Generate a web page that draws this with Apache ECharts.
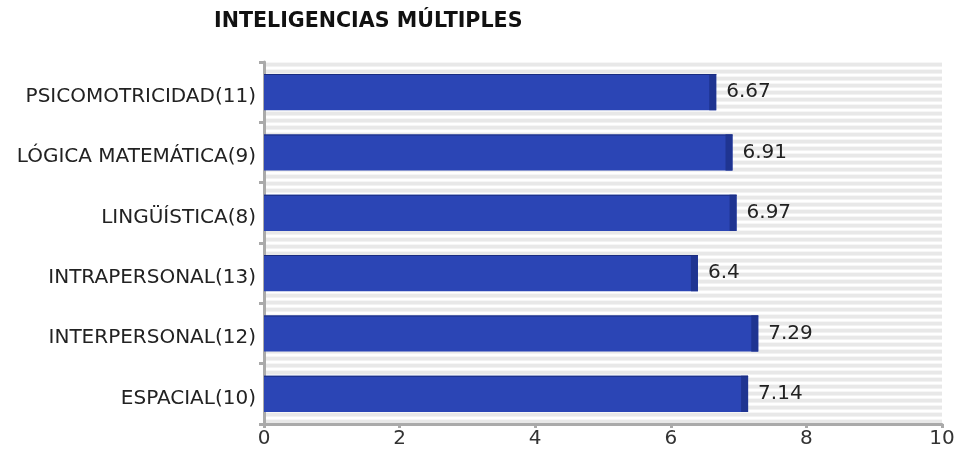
<!DOCTYPE html>
<html><head><meta charset="utf-8">
<script src="https://cdn.jsdelivr.net/npm/echarts@6/dist/echarts.min.js"></script>
<style>html,body{margin:0;padding:0;background:#fff}#c{width:958px;height:450px}</style>
</head><body><div id="c"></div>
<script>
const categories = ['PSICOMOTRICIDAD(11)','LÓGICA MATEMÁTICA(9)','LINGÜÍSTICA(8)','INTRAPERSONAL(13)','INTERPERSONAL(12)','ESPACIAL(10)'];
const values = [6.67, 6.91, 6.97, 6.4, 7.29, 7.14];
const xTicks = [0, 2, 4, 6, 8, 10];

// stripe pattern
const pc = document.createElement('canvas');
pc.width = 8; pc.height = 7;
const pctx = pc.getContext('2d');
pctx.fillStyle = '#ffffff'; pctx.fillRect(0,0,8,7);
pctx.fillStyle = '#e8e8e8'; pctx.fillRect(0,0,8,3);
pctx.fillStyle = '#f2f2f2'; pctx.fillRect(0,3,8,1);
pctx.fillStyle = '#f6f6f6'; pctx.fillRect(0,6,8,1);

const chart = echarts.init(document.getElementById('c'));
chart.setOption({
  animation: false,
  title: {text: 'INTELIGENCIAS MÚLTIPLES', left: 209, top: 6,
    textStyle: {fontFamily: 'DejaVu Sans', fontWeight: 'bold', fontSize: 20.6, color: '#111'}},
  grid: {left: 264, right: 16, top: 62, bottom: 26, show: true, borderWidth: 0,
    backgroundColor: {image: pc, repeat: 'repeat'}},
  xAxis: {type: 'value', min: 0, max: 10, interval: 2,
    axisLine: {show: true, lineStyle: {color: '#aaaaaa', width: 3}},
    axisTick: {show: true, length: 4, lineStyle: {color: '#aaaaaa', width: 3}},
    splitLine: {show: false},
    axisLabel: {fontFamily: 'DejaVu Sans', fontSize: 20, color: '#333', margin: 5,
      formatter: v => xTicks.includes(v) ? String(v) : ''}},
  yAxis: {type: 'category', data: categories, inverse: true,
    axisLine: {show: true, lineStyle: {color: '#aaaaaa', width: 3}},
    axisTick: {show: true, length: 5, lineStyle: {color: '#aaaaaa', width: 3}},
    axisLabel: {margin: 8, formatter: v => '{a|' + v + '}',
      rich: {a: {fontFamily: 'DejaVu Sans', fontSize: 20, color: '#222', padding: [9, 0, 0, 0]}}}},
  series: [{
    type: 'custom',
    data: values.map((v, i) => [v, i]),
    encode: {x: 0, y: 1},
    renderItem: function (params, api) {
      const v = api.value(0), c = api.value(1);
      const s = api.coord([0, c]);
      const e = api.coord([v, c]);
      const h = api.size([0, 1])[1] * 0.6;
      const y0 = s[1] - h / 2;
      const w = e[0] - s[0];
      return {type: 'group', children: [
        {type: 'rect', shape: {x: s[0], y: y0, width: w, height: h},
          style: {fill: '#2b45b5'}},
        {type: 'rect', shape: {x: e[0] - 7, y: y0, width: 7, height: h},
          style: {fill: '#1f3491'}},
        {type: 'rect', shape: {x: s[0], y: y0, width: w, height: 1},
          style: {fill: '#1a2c80'}},
        {type: 'text', style: {text: String(v), x: e[0] + 10, y: s[1],
          verticalAlign: 'middle', align: 'left',
          font: '20px "DejaVu Sans"', fill: '#222'}}
      ]};
    }
  }]
});
</script></body></html>
